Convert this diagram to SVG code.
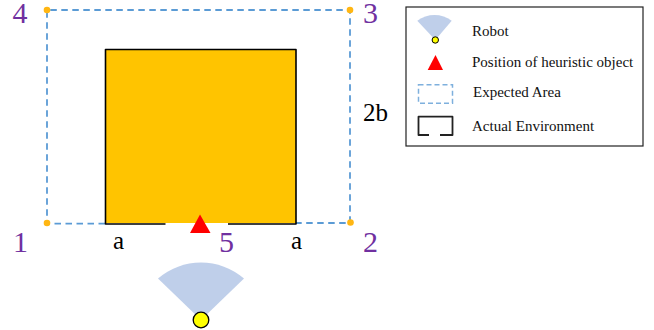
<svg xmlns="http://www.w3.org/2000/svg" width="654" height="330" viewBox="0 0 654 330">
<style>
text{font-family:"Liberation Serif","Times New Roman",serif}
.n{font-size:30px;fill:#7030a0}
.l{font-size:25px;fill:#000}
.t{font-size:15px;fill:#111}
.dash{fill:none;stroke:#5b9bd5;stroke-width:1.8;stroke-dasharray:6.500 4.500}
.wall{fill:none;stroke:#000;stroke-width:1.6;stroke-linejoin:round}
.wall2{fill:none;stroke:#222;stroke-width:1.8;stroke-linejoin:round}
.cone{fill:#bfcfea}
.eye{fill:#ffff00;stroke:#000}
.tri{fill:#ff0000}
.c{fill:#ffb612}
</style>
<rect width="654" height="330" fill="#fff"/>
<g id="expected-area"><path class="dash" d="M105 223.700H47V10H350V223H296"/></g>
<g id="environment">
<rect x="106" y="49.500" width="190" height="173.500" fill="#ffc400"/>
<path class="wall" d="M165.500 224H105.500V49.500H296V224H228"/>
</g>
<g id="corners">
<circle class="c" cx="47" cy="10" r="3.300"/><circle class="c" cx="350" cy="10" r="3.300"/>
<circle class="c" cx="47" cy="223" r="3.300"/><circle class="c" cx="350.500" cy="222.500" r="3.300"/>
</g>
<g id="heuristic-object"><path class="tri" d="M200 214.500L210.500 233H190Z"/></g>
<g id="robot">
<path class="cone" d="M158 278.500A66 66 0 0 1 244 278.500L201 320Z"/>
<circle class="eye" cx="201" cy="320" r="7.800" stroke-width="1.300"/>
</g>
<g id="labels">
<text class="n" x="12.500" y="23">4</text><text class="n" x="363" y="23">3</text>
<text class="n" x="13" y="252">1</text><text class="n" x="363" y="252">2</text>
<text class="n" x="219" y="252">5</text>
<text class="l" x="113" y="249">a</text><text class="l" x="291" y="249">a</text>
<text class="l" x="363" y="121">2b</text>
</g>
<g id="legend">
<rect x="406" y="7" width="237" height="139" fill="#fff" stroke="#222" stroke-width="1.200"/>
<path class="cone" d="M417.300 20.700A29 29 0 0 1 451.700 20.700L435.300 40Z"/>
<circle class="eye" cx="435.300" cy="40" r="3.200" stroke-width="1"/>
<path class="tri" d="M435.500 55L443 70H427.700Z"/>
<rect x="418.500" y="84.700" width="34" height="18.500" fill="none" stroke="#7eb0dd" stroke-width="1.500" stroke-dasharray="5 3"/>
<path class="wall2" d="M429 135H418.500V116.700H452.500V135H440"/>
<text class="t" x="472" y="36">Robot</text>
<text class="t" x="472" y="67">Position of heuristic object</text>
<text class="t" x="473" y="97">Expected Area</text>
<text class="t" x="472" y="131">Actual Environment</text>
</g>
</svg>
